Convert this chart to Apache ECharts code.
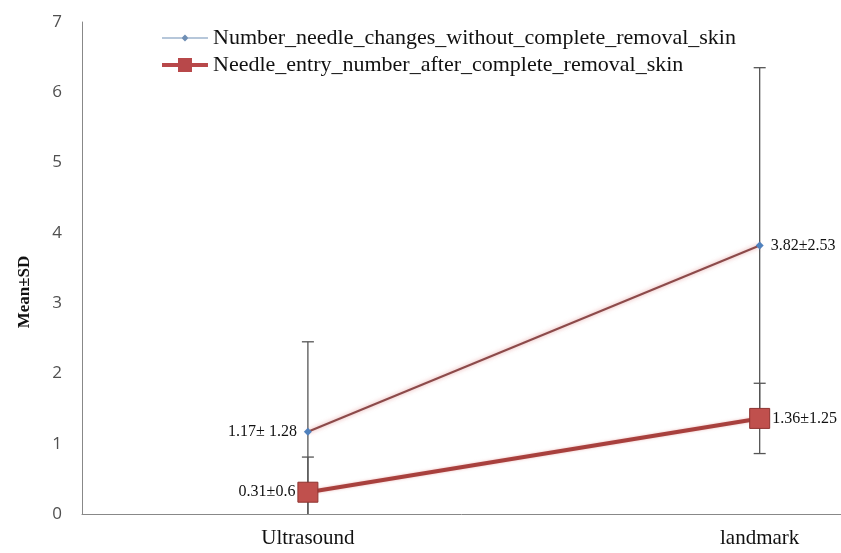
<!DOCTYPE html>
<html><head><meta charset="utf-8">
<script src="https://cdn.jsdelivr.net/npm/echarts@6/dist/echarts.min.js"></script>
<style>html,body{margin:0;padding:0;background:#fff;}#c{width:841px;height:553px;}</style>
</head><body><div id="c"></div>
<script>
const categories = ['Ultrasound', 'landmark'];
const seriesNames = ['Number_needle_changes_without_complete_removal_skin', 'Needle_entry_number_after_complete_removal_skin'];
const changesMean = [1.17, 3.82];
const changesSD = [1.28, 2.53];
const changesLabels = ['1.17\u00b1 1.28', '3.82\u00b12.53'];
const entryMean = [0.31, 1.36];
const entryErrDrawn = [0.5, 0.5];
const entryLabels = ['0.31\u00b10.6', '1.36\u00b11.25'];
const yTicks = [0, 1, 2, 3, 4, 5, 6, 7];

const chart = echarts.init(document.getElementById('c'));
const serif = '"Liberation Serif", "DejaVu Serif", serif';

function errData(means, errs) {
  return means.map((m, i) => [i, m - errs[i], m + errs[i]]);
}
function errRender(params, api) {
  const x = api.value(0);
  const lo = api.value(1), hi = api.value(2);
  const pHi = api.coord([x, hi]);
  const pLo = api.coord([x, Math.max(lo, 0)]);
  const hw = 6;
  const st = {stroke: '#555', lineWidth: 1.3};
  const children = [
    {type: 'line', shape: {x1: pHi[0], y1: pHi[1], x2: pLo[0], y2: pLo[1]}, style: st},
    {type: 'line', shape: {x1: pHi[0] - hw, y1: pHi[1], x2: pHi[0] + hw, y2: pHi[1]}, style: st}
  ];
  if (lo >= 0) {
    children.push({type: 'line', shape: {x1: pLo[0] - hw, y1: pLo[1], x2: pLo[0] + hw, y2: pLo[1]}, style: st});
  }
  return {type: 'group', children};
}

const corners = 'M0,0h0.01v0.01h-0.01Z M46,22h0.01v0.01h-0.01Z ';
const iconDiamondLine = 'path://' + corners + 'M0,10.5H46V11.5H0Z M23,7.5L26.5,11L23,14.5L19.5,11Z';
const iconSquareLine = 'path://' + corners + 'M0,9H46V13H0Z M16,4H30V18H16Z';

const option = {
  animation: false,
  backgroundColor: '#fff',
  grid: {left: 82, right: 0, top: 22, bottom: 39},
  legend: {
    orient: 'vertical', left: 157, top: 22, itemGap: 5,
    itemWidth: 46, itemHeight: 22,
    textStyle: {fontFamily: serif, fontSize: 22, color: '#111'},
    data: [
      {name: seriesNames[0], icon: iconDiamondLine, itemStyle: {color: '#6f8fb5', borderWidth: 0}},
      {name: seriesNames[1], icon: iconSquareLine, itemStyle: {color: '#b8484a', borderWidth: 0}}
    ]
  },
  xAxis: {
    type: 'value', min: -0.5, max: 1.18, interval: 0.5,
    splitLine: {show: false}, axisTick: {show: false},
    axisLine: {onZero: false, lineStyle: {color: '#888', width: 1}},
    axisLabel: {
      showMaxLabel: false, margin: 14,
      fontFamily: serif, fontSize: 21, color: '#111',
      formatter: v => (Math.abs(v - Math.round(v)) < 1e-6 && categories[Math.round(v)] !== undefined) ? categories[Math.round(v)] : ''
    }
  },
  yAxis: {
    type: 'value', min: yTicks[0], max: yTicks[yTicks.length - 1], interval: 1,
    splitLine: {show: false}, axisTick: {show: false},
    axisLine: {show: true, onZero: false, lineStyle: {color: '#888', width: 1}},
    axisLabel: {margin: 20, fontFamily: '"Open Sans", "Noto Sans", sans-serif', fontSize: 17, color: '#505050'},
    name: 'Mean\u00b1SD', nameLocation: 'middle', nameGap: 49,
    nameTextStyle: {fontFamily: serif, fontSize: 17, fontWeight: 'bold', color: '#111', padding: [0, 0, 0, -48]}
  },
  series: [
    {type: 'custom', name: 'err1', renderItem: errRender, data: errData(changesMean, changesSD), z: 1, silent: true, encode: {x: 0, y: [1, 2]}},
    {type: 'custom', name: 'err2', renderItem: errRender, data: errData(entryMean, entryErrDrawn), z: 1, silent: true, encode: {x: 0, y: [1, 2]}},
    {
      type: 'line', name: seriesNames[0], z: 3,
      data: changesMean.map((v, i) => ({value: [i, v], label: {position: i === 0 ? 'left' : 'right'}})),
      symbol: 'diamond', symbolSize: 8,
      itemStyle: {color: '#4f81bd'},
      lineStyle: {color: '#8c4a4a', width: 2, shadowColor: 'rgba(220,120,120,0.7)', shadowBlur: 4},
      label: {
        show: true, fontFamily: serif, fontSize: 16, color: '#111', distance: 7,
        formatter: p => changesLabels[p.dataIndex]
      }
    },
    {
      type: 'line', name: seriesNames[1], z: 4,
      data: entryMean.map((v, i) => ({value: [i, v], label: {position: i === 0 ? 'left' : 'right'}})),
      symbol: 'rect', symbolSize: 20,
      itemStyle: {color: '#c0504d', borderColor: '#8e3330', borderWidth: 1},
      lineStyle: {color: '#a8403d', width: 4, shadowColor: 'rgba(220,120,120,0.5)', shadowBlur: 3},
      label: {
        show: true, fontFamily: serif, fontSize: 16, color: '#111', distance: 2,
        formatter: p => entryLabels[p.dataIndex]
      }
    }
  ]
};
chart.setOption(option);
</script></body></html>
